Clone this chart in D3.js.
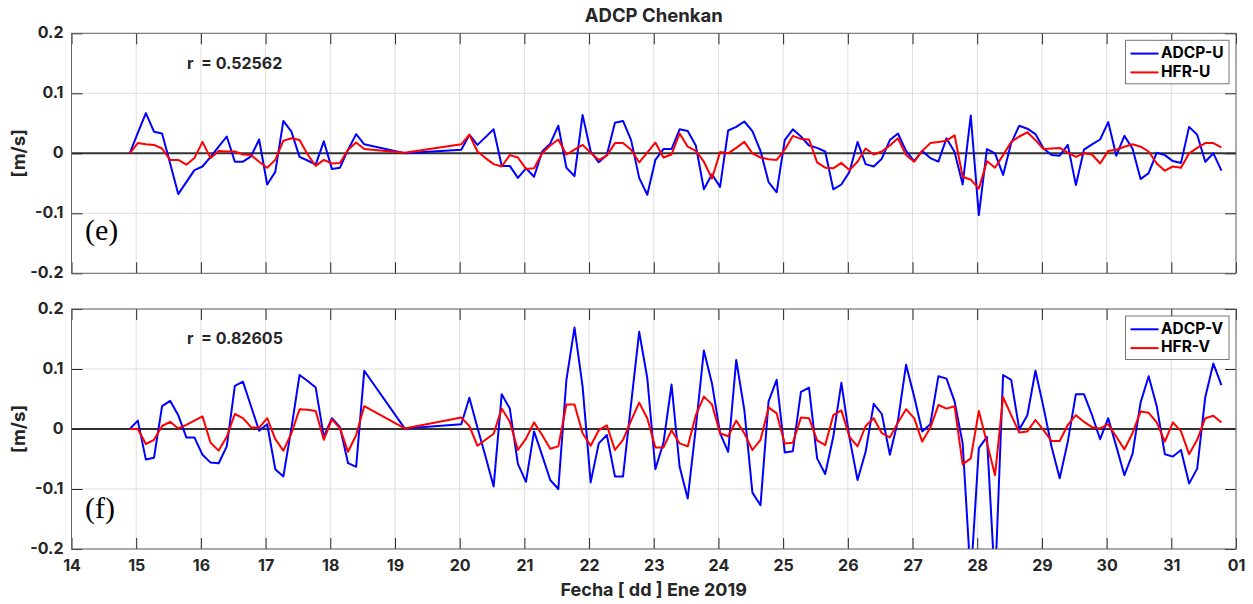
<!DOCTYPE html>
<html>
<head>
<meta charset="utf-8">
<script src="https://cdn.jsdelivr.net/npm/d3@7"></script>
<style>
  body { margin: 0; background: #fff; }
  text { font-family: Inter, "Liberation Sans", Arial, sans-serif; font-weight: bold; fill: #262626; }
</style>
</head>
<body>
<script>

// Fecha (dia de enero 2019), muestras cada 3 h, con hueco el dia 19
var fecha = [
    14.9, 15.025, 15.15, 15.275, 15.4, 15.525, 15.65, 15.775, 15.9, 16.025,
    16.15, 16.275, 16.4, 16.525, 16.65, 16.775, 16.9, 17.025, 17.15, 17.275,
    17.4, 17.525, 17.65, 17.775, 17.9, 18.025, 18.15, 18.275, 18.4, 18.525,
    19.15,
    20.025, 20.15, 20.275, 20.4, 20.525, 20.65, 20.775, 20.9, 21.025, 21.15,
    21.275, 21.4, 21.525, 21.65, 21.775, 21.9, 22.025, 22.15, 22.275, 22.4,
    22.525, 22.65, 22.775, 22.9, 23.025, 23.15, 23.275, 23.4, 23.525, 23.65,
    23.775, 23.9, 24.025, 24.15, 24.275, 24.4, 24.525, 24.65, 24.775, 24.9,
    25.025, 25.15, 25.275, 25.4, 25.525, 25.65, 25.775, 25.9, 26.025, 26.15,
    26.275, 26.4, 26.525, 26.65, 26.775, 26.9, 27.025, 27.15, 27.275, 27.4,
    27.525, 27.65, 27.775, 27.9, 28.025, 28.15, 28.275, 28.4, 28.525, 28.65,
    28.775, 28.9, 29.025, 29.15, 29.275, 29.4, 29.525, 29.65, 29.775, 29.9,
    30.025, 30.15, 30.275, 30.4, 30.525, 30.65, 30.775, 30.9, 31.025, 31.15,
    31.275, 31.4, 31.525, 31.65, 31.775
];

// componente U [m/s]
var adcpU = [
    0, 0.034, 0.067, 0.036, 0.033, -0.017, -0.068, -0.048, -0.028, -0.022,
    -0.006, 0.011, 0.028, -0.014, -0.014, -0.005, 0.023, -0.052, -0.031, 0.054,
    0.036, -0.006, -0.012, -0.019, 0.02, -0.026, -0.024, 0.006, 0.032, 0.015,
    0,
    0.006, 0.031, 0.014, 0.027, 0.04, -0.021, -0.021, -0.041, -0.025, -0.039,
    0.003, 0.016, 0.046, -0.024, -0.038, 0.064, 0.003, -0.015, -0.003, 0.051,
    0.054, 0.022, -0.041, -0.069, -0.011, 0.007, 0.007, 0.04, 0.037, 0.013,
    -0.06, -0.035, -0.056, 0.038, 0.044, 0.053, 0.037, 0.004, -0.048, -0.065,
    0.022, 0.04, 0.028, 0.013, 0.009, 0.003, -0.06, -0.052, -0.031, 0.019,
    -0.018, -0.022, -0.009, 0.022, 0.033, 0.004, -0.013, 0.004, -0.008, -0.014,
    0.025, 0.002, -0.052, 0.063, -0.103, 0.007, 0, -0.036, 0.017, 0.046,
    0.041, 0.032, 0.008, -0.003, -0.004, 0.014, -0.053, 0.006, 0.015, 0.023,
    0.052, -0.004, 0.029, 0.008, -0.043, -0.033, 0.001, -0.003, -0.013, -0.016,
    0.044, 0.031, -0.014, 0, -0.029
];
var hfrU = [
    0, 0.017, 0.015, 0.014, 0.008, -0.011, -0.011, -0.019, -0.008, 0.019,
    -0.008, 0.004, 0.003, 0.003, -0.002, -0.003, -0.014, -0.024, -0.011, 0.021,
    0.025, 0.022, -0.002, -0.021, -0.011, -0.017, -0.016, 0.006, 0.018, 0.007,
    0.001,
    0.015, 0.031, 0.003, -0.008, -0.018, -0.022, -0.003, -0.007, -0.026, -0.025,
    0, 0.013, 0.023, -0.002, 0.006, 0.014, 0.001, -0.011, -0.004, 0.017,
    0.017, 0.006, -0.015, 0.001, 0.018, -0.007, -0.002, 0.033, 0.011, 0.004,
    -0.014, -0.042, 0.002, 0, 0.009, 0.019, 0, -0.007, -0.01, -0.011,
    0.006, 0.029, 0.024, 0.023, -0.015, -0.024, -0.025, -0.016, -0.028, -0.014,
    0.008, -0.002, 0.003, 0.013, 0.025, -0.003, -0.014, 0.004, 0.017, 0.019,
    0.021, 0.03, -0.039, -0.044, -0.059, -0.013, -0.024, -0.003, 0.019, 0.028,
    0.035, 0.022, 0.007, 0.008, 0.009, 0.001, -0.006, 0, -0.002, -0.017,
    0.004, 0.006, 0.011, 0.015, 0.011, 0.003, -0.017, -0.029, -0.022, -0.024,
    0, 0.009, 0.017, 0.017, 0.01
];

// componente V [m/s]
var adcpV = [
    0, 0.014, -0.051, -0.048, 0.038, 0.047, 0.023, -0.014, -0.014, -0.043,
    -0.056, -0.057, -0.029, 0.072, 0.079, 0.038, -0.003, 0.008, -0.067, -0.079,
    0.002, 0.09, 0.08, 0.069, -0.013, 0.018, 0.003, -0.057, -0.063, 0.097,
    0.001,
    0.008, 0.052, 0.002, -0.046, -0.096, 0.058, 0.034, -0.058, -0.088, -0.004,
    -0.044, -0.085, -0.1, 0.082, 0.169, 0.071, -0.089, -0.024, -0.01, -0.079,
    -0.079, 0.042, 0.162, 0.085, -0.067, -0.023, 0.074, -0.063, -0.116, 0.002,
    0.131, 0.076, -0.007, -0.038, 0.115, 0.032, -0.106, -0.127, 0.046, 0.082,
    -0.039, -0.037, 0.062, 0.069, -0.049, -0.075, -0.013, 0.077, -0.014, -0.085,
    -0.038, 0.042, 0.025, -0.043, 0.014, 0.107, 0.054, -0.004, 0.008, 0.088,
    0.084, 0.046, -0.024, -0.25, -0.032, -0.013, -0.26, 0.09, 0.082, -0.001,
    0.023, 0.097, 0.036, -0.03, -0.082, -0.021, 0.058, 0.058, 0.023, -0.017,
    0.018, -0.029, -0.077, -0.042, 0.044, 0.088, 0.038, -0.042, -0.046, -0.035,
    -0.091, -0.066, 0.053, 0.109, 0.073
];
var hfrV = [
    0, 0, -0.025, -0.018, 0.005, 0.012, 0.001, 0.007, 0.014, 0.021,
    -0.023, -0.036, -0.013, 0.025, 0.018, 0.003, 0.002, 0.018, -0.017, -0.036,
    -0.007, 0.033, 0.032, 0.03, -0.018, 0.016, 0.001, -0.038, -0.01, 0.038,
    0.001,
    0.019, 0.005, -0.028, -0.018, -0.008, 0.034, 0.012, -0.035, -0.016, 0.011,
    -0.01, -0.033, -0.029, 0.041, 0.041, -0.007, -0.028, -0.002, 0.006, -0.035,
    -0.018, 0.014, 0.044, 0.018, -0.031, -0.031, -0.002, -0.024, -0.029, 0.023,
    0.054, 0.041, -0.007, -0.012, 0.014, -0.007, -0.035, -0.018, 0.036, 0.026,
    -0.024, -0.023, 0.019, 0.018, -0.019, -0.027, 0.023, 0.031, -0.013, -0.029,
    0.005, 0.018, -0.007, -0.014, 0.011, 0.033, 0.018, -0.021, 0.002, 0.04,
    0.034, 0.038, -0.059, -0.049, 0.03, -0.023, -0.077, 0.053, 0.023, -0.006,
    -0.004, 0.015, -0.002, -0.02, -0.02, 0.007, 0.023, 0.012, 0.003, 0.001,
    0.008, -0.013, -0.034, -0.007, 0.029, 0.027, 0.011, -0.021, 0.011, -0.004,
    -0.042, -0.018, 0.018, 0.022, 0.011
];

var xTickValues = [14, 15, 16, 17, 18, 19, 20, 21, 22, 23, 24, 25, 26, 27, 28, 29, 30, 31, 32];
var xTickLabels = ["14", "15", "16", "17", "18", "19", "20", "21", "22", "23",
                   "24", "25", "26", "27", "28", "29", "30", "31", "01"];
var yTickValues = [-0.2, -0.1, 0, 0.1, 0.2];
var yTickLabels = ["-0.2", "-0.1", "0", "0.1", "0.2"];


var W = 1253, H = 604;
var left = 71.5, right = 1236, plotH = 240;
var fs = "16px";

var svg = d3.select("body").append("svg")
            .attr("width", W)
            .attr("height", H);

var x = d3.scaleLinear().domain([14, 32]).range([left, right]);

var panels = [
    { top: 33.3, adcp: adcpU, hfr: hfrU, names: ["ADCP-U", "HFR-U"], r: "r  = 0.52562", tag: "(e)", tagY: 240 },
    { top: 309,  adcp: adcpV, hfr: hfrV, names: ["ADCP-V", "HFR-V"], r: "r  = 0.82605", tag: "(f)", tagY: 518 }
];

// title
svg.append("text")
   .attr("x", (left + right) / 2)
   .attr("y", 17)
   .attr("text-anchor", "middle")
   .attr("dominant-baseline", "middle")
   .style("font-size", "18.5px")
   .text("ADCP Chenkan");

panels.forEach(function ( p, i ) {

    var y = d3.scaleLinear().domain([-0.2, 0.2]).range([p.top + plotH, p.top]);
    var g = svg.append("g");

    g.append("clipPath").attr("id", "clip" + i)
     .append("rect")
     .attr("x", left).attr("y", p.top)
     .attr("width", right - left).attr("height", plotH);

    // grid
    g.selectAll(".vgrid").data(xTickValues).enter().append("line")
     .attr("x1", function (d) { return x(d); }).attr("x2", function (d) { return x(d); })
     .attr("y1", p.top).attr("y2", p.top + plotH)
     .attr("stroke", "#dedede").attr("stroke-width", 1);
    g.selectAll(".hgrid").data(yTickValues).enter().append("line")
     .attr("x1", left).attr("x2", right)
     .attr("y1", function (d) { return y(d); }).attr("y2", function (d) { return y(d); })
     .attr("stroke", "#dedede").attr("stroke-width", 1);

    // zero line
    g.append("line")
     .attr("x1", left).attr("x2", right)
     .attr("y1", y(0)).attr("y2", y(0))
     .attr("stroke", "#333").attr("stroke-width", 2);

    var line = d3.line()
                 .x(function (d, k) { return x(fecha[k]); })
                 .y(function (d) { return y(d); });

    g.append("path").datum(p.adcp)
     .attr("clip-path", "url(#clip" + i + ")")
     .attr("fill", "none").attr("stroke", "#0000ff").attr("stroke-width", 2)
     .attr("stroke-linejoin", "round")
     .attr("d", line);
    g.append("path").datum(p.hfr)
     .attr("clip-path", "url(#clip" + i + ")")
     .attr("fill", "none").attr("stroke", "#ff0000").attr("stroke-width", 2)
     .attr("stroke-linejoin", "round")
     .attr("d", line);

    // axes (ticks inside, on all 4 sides)
    var tl = 11;
    g.append("g")
     .attr("transform", "translate(0," + (p.top + plotH) + ")")
     .call(d3.axisBottom(x).tickValues(xTickValues).tickSizeInner(-tl).tickSizeOuter(0)
             .tickFormat(function (d, k) { return i === 1 ? xTickLabels[k] : ""; }))
     .call(function (a) {
         a.select(".domain").remove();
         a.selectAll("line").attr("stroke", "#262626");
         a.selectAll("text").attr("dy", "0").attr("y", 18).attr("dominant-baseline", "middle")
          .style("font-size", fs).style("font-family", "Inter, 'Liberation Sans', Arial, sans-serif");
     });
    g.append("g")
     .attr("transform", "translate(0," + p.top + ")")
     .call(d3.axisTop(x).tickValues(xTickValues).tickSizeInner(-tl).tickSizeOuter(0).tickFormat(""))
     .call(function (a) {
         a.select(".domain").remove();
         a.selectAll("line").attr("stroke", "#262626");
     });
    g.append("g")
     .attr("transform", "translate(" + left + ",0)")
     .call(d3.axisLeft(y).tickValues(yTickValues).tickSizeInner(-tl).tickSizeOuter(0)
             .tickFormat(function (d, k) { return yTickLabels[k]; }))
     .call(function (a) {
         a.select(".domain").remove();
         a.selectAll("line").attr("stroke", "#262626");
         a.selectAll("text").attr("x", -8).attr("dy", "0").attr("dominant-baseline", "middle")
          .style("font-size", fs).style("font-family", "Inter, 'Liberation Sans', Arial, sans-serif");
     });
    g.append("g")
     .attr("transform", "translate(" + right + ",0)")
     .call(d3.axisRight(y).tickValues(yTickValues).tickSizeInner(-tl).tickSizeOuter(0).tickFormat(""))
     .call(function (a) {
         a.select(".domain").remove();
         a.selectAll("line").attr("stroke", "#262626");
     });

    // box
    g.append("rect")
     .attr("x", left).attr("y", p.top)
     .attr("width", right - left).attr("height", plotH)
     .attr("fill", "none").attr("stroke", "#666").attr("stroke-width", 1);

    // y label
    g.append("text")
     .attr("transform", "translate(20," + (p.top + plotH / 2) + ") rotate(-90)")
     .attr("text-anchor", "middle")
     .attr("dominant-baseline", "middle")
     .style("font-size", "18.5px")
     .text("[m/s]");

    // correlation
    g.append("text")
     .attr("x", 187).attr("y", p.top + 31)
     .attr("dominant-baseline", "middle")
     .style("font-size", "16px")
     .style("white-space", "pre")
     .text(p.r);

    // panel tag
    g.append("text")
     .attr("x", 85).attr("y", p.tagY)
     .style("font-family", "'Liberation Serif', 'Times New Roman', serif")
     .style("font-weight", "normal")
     .style("font-size", "30px")
     .style("fill", "#000")
     .text(p.tag);

    // legend
    var lg = g.append("g").attr("transform", "translate(1125.5," + (p.top + 7) + ")");
    lg.append("rect")
      .attr("width", 103.5).attr("height", 43.5)
      .attr("fill", "#fff").attr("stroke", "#777").attr("stroke-width", 1);
    [["#0000ff", p.names[0]], ["#ff0000", p.names[1]]].forEach(function ( e, k ) {
        var yy = 13.3 + k * 18.8;
        lg.append("line")
          .attr("x1", 5).attr("x2", 33).attr("y1", yy).attr("y2", yy)
          .attr("stroke", e[0]).attr("stroke-width", 2);
        lg.append("text")
          .attr("x", 35.5).attr("y", yy)
          .attr("dominant-baseline", "middle")
          .style("font-size", "15.5px")
          .style("fill", "#000")
          .text(e[1]);
    });
});

// x label
svg.append("text")
   .attr("x", (left + right) / 2)
   .attr("y", 591)
   .attr("text-anchor", "middle")
   .attr("dominant-baseline", "middle")
   .style("font-size", "18px")
   .text("Fecha [ dd ] Ene 2019");

</script>
</body>
</html>
